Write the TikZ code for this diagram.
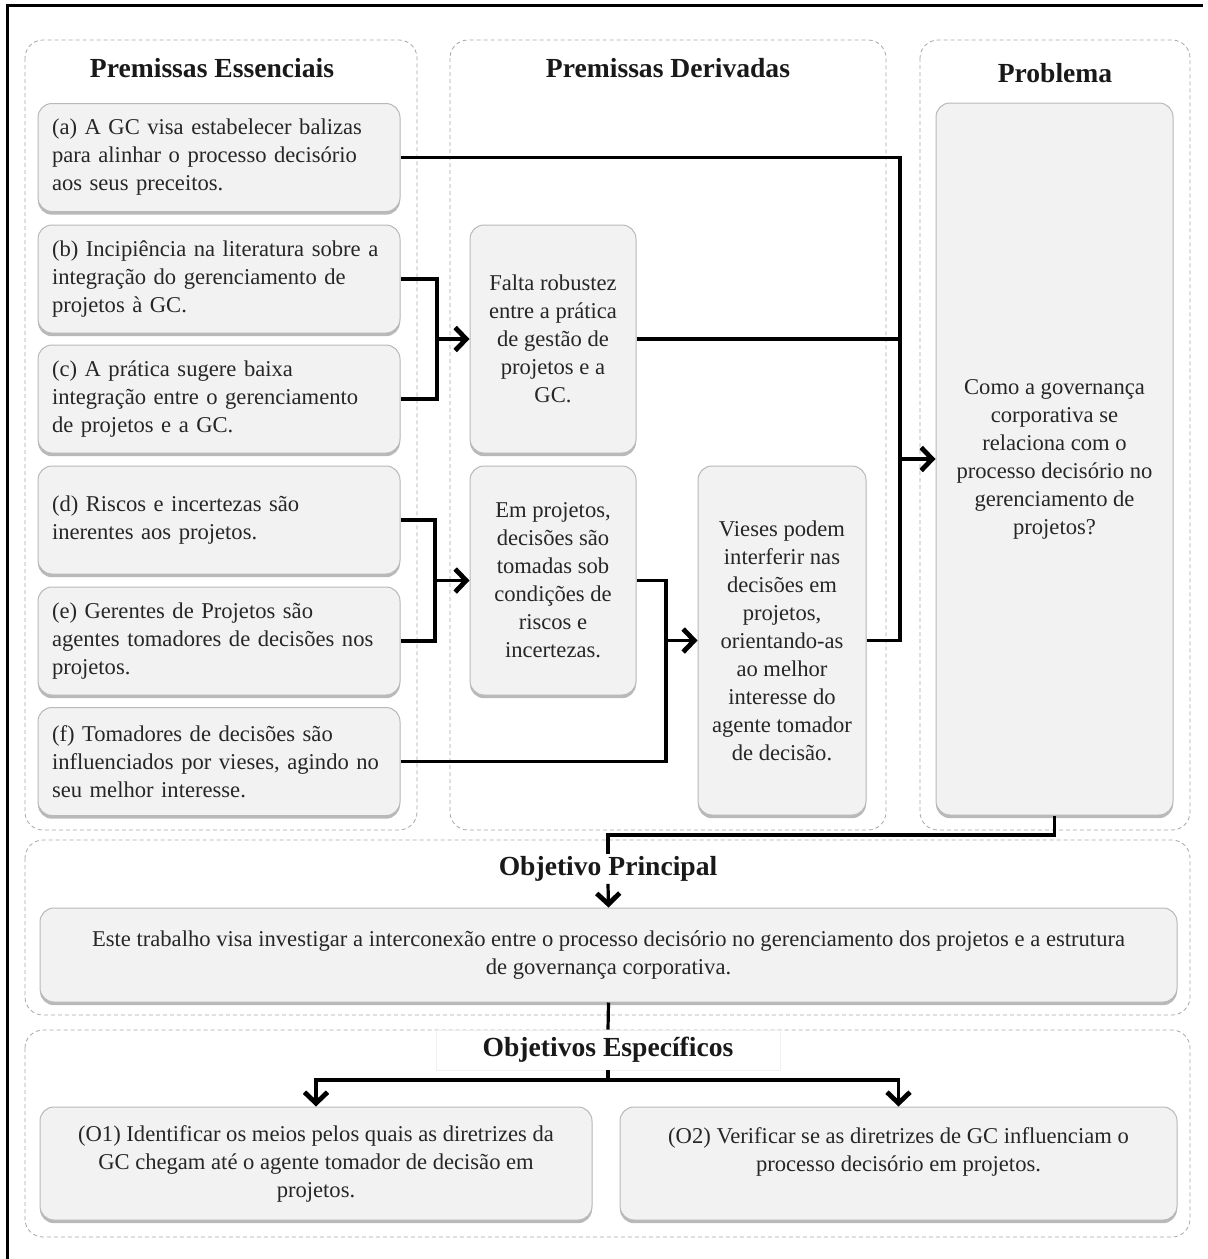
\documentclass[tikz,border=0pt]{standalone}
\usepackage{fontspec}
\setmainfont{Liberation Serif}
\usetikzlibrary{arrows.meta,shadows}

\begin{document}
\begin{tikzpicture}[x=0.5pt,y=-0.5pt,
  panel/.style={draw=black!35, dash pattern=on 2pt off 1.5pt, line width=0.4pt, rounded corners=9pt},
  card/.style={draw=black!28, fill=black!5, rounded corners=7pt, line width=0.5pt,
    drop shadow={shadow xshift=0pt, shadow yshift=-1.6pt, fill=black!50, opacity=0.55},
    inner sep=0pt, font=\fontsize{11.3}{14}\selectfont, text=black!85},
  leftcard/.style={card, align=left, text width=167pt, inner xsep=7pt, minimum height=54pt},
  ctrcard/.style={card, align=center},
  heading/.style={font=\fontsize{13.8}{16}\selectfont\bfseries, text=black!90, inner sep=2pt},
  link/.style={line width=1.6pt, black},
  arrow/.style={link, -{Straight Barb[length=5.5pt, width=11.5pt, line width=2.4pt]}}
]
\useasboundingbox (0,0) rectangle (1207,1259);

% frame
\draw[line width=1.5pt] (7,1259) -- (7,5) -- (1203,5);

% dashed panels
\draw[panel] (25,40) rectangle (417,830);
\draw[panel] (450,40) rectangle (886,830);
\draw[panel] (920,40) rectangle (1190,830);
\draw[panel] (25,840) rectangle (1190,1015);
\draw[panel] (25,1030) rectangle (1190,1237);

% panel headings
\node[heading] (hess) at (212,68) {Premissas Essenciais};
\node[heading] (hder) at (668,68) {Premissas Derivadas};
\node[heading] (hprob) at (1055,73) {Problema};

% essential premises
\node[leftcard] (a) at (219,157.5) {(a) A GC visa estabelecer balizas\\para alinhar o processo decisório\\aos seus preceitos.};
\node[leftcard] (b) at (219,279) {(b) Incipiência na literatura sobre a\\integração do gerenciamento de\\projetos à GC.};
\node[leftcard] (c) at (219,399) {(c) A prática sugere baixa\\integração entre o gerenciamento\\de projetos e a GC.};
\node[leftcard] (d) at (219,520) {(d) Riscos e incertezas são\\inerentes aos projetos.};
\node[leftcard] (e) at (219,641) {(e) Gerentes de Projetos são\\agentes tomadores de decisões nos\\projetos.};
\node[leftcard] (f) at (219,761.5) {(f) Tomadores de decisões são\\influenciados por vieses, agindo no\\seu melhor interesse.};

% derived premises
\node[ctrcard, minimum width=83pt, minimum height=114pt] (falta) at (553,339) {Falta robustez\\entre a prática\\de gestão de\\projetos e a\\GC.};
\node[ctrcard, minimum width=83pt, minimum height=114.5pt] (risco) at (553,580.5) {Em projetos,\\decisões são\\tomadas sob\\condições de\\riscos e\\incertezas.};
\node[ctrcard, minimum width=84pt, minimum height=174.5pt] (vieses) at (782,640.5) {Vieses podem\\interferir nas\\decisões em\\projetos,\\orientando-as\\ao melhor\\interesse do\\agente tomador\\de decisão.};

% problem
\node[ctrcard, minimum width=118.5pt, minimum height=356pt] (prob) at (1054.5,459) {Como a governança\\corporativa se\\relaciona com o\\processo decisório no\\gerenciamento de\\projetos?};

% main objective
\node[ctrcard, minimum width=568.5pt, minimum height=47pt] (main) at (608.5,955) {Este trabalho visa investigar a interconexão entre o processo decisório no gerenciamento dos projetos e a estrutura\\de governança corporativa.};

% specific objectives
\node[ctrcard, minimum width=276pt, minimum height=56.5pt] (o1) at (316,1163.5) {(O1) Identificar os meios pelos quais as diretrizes da\\GC chegam até o agente tomador de decisão em\\projetos.};
\node[ctrcard, minimum width=278.5pt, minimum height=56.5pt] (o2) at (898.5,1163.5) {(O2) Verificar se as diretrizes de GC influenciam o\\processo decisório em projetos.\\\mbox{}};

% junction points
\coordinate (j1) at (900,459);
\coordinate (j2) at (437,339);
\coordinate (j3) at (435,580.5);
\coordinate (j4) at (666,640.5);
\coordinate (k1) at (608,835);
\coordinate (k2) at (608,1080);

% connectors into the problem
\draw[link] (a.east) -| (j1);
\draw[link] (falta.east) -| (j1);
\draw[link] (vieses.east) -| (j1);
\draw[arrow] (j1) -- (prob.west);

% connectors between premises
\draw[link] (b.east) -| (j2);
\draw[link] (c.east) -| (j2);
\draw[arrow] (j2) -- (falta.west);
\draw[link] (d.east) -| (j3);
\draw[link] (e.east) -| (j3);
\draw[arrow] (j3) -- (risco.west);
\draw[link] (risco.east) -| (j4);
\draw[link] (f.east) -| (j4);
\draw[arrow] (j4) -- (vieses.west);

% objective headings and links
\draw[link] (prob.south) |- (k1) -- (608,860);
\node[heading, fill=white, inner sep=1pt] (hmain) at (608,869) {Objetivo Principal};
\draw[arrow] (hmain.south) -- (main.north);

\node[heading, fill=white, draw=black!6, line width=0.3pt, minimum width=172pt, minimum height=20pt] (hspec) at (608,1050) {Objetivos Específicos};
\draw[link] (main.south) -- (hspec.north);
\draw[link] (hspec.south) -- (k2);
\draw[arrow] (k2) -| (o1.north);
\draw[arrow] (k2) -| (o2.north);
\end{tikzpicture}
\end{document}
